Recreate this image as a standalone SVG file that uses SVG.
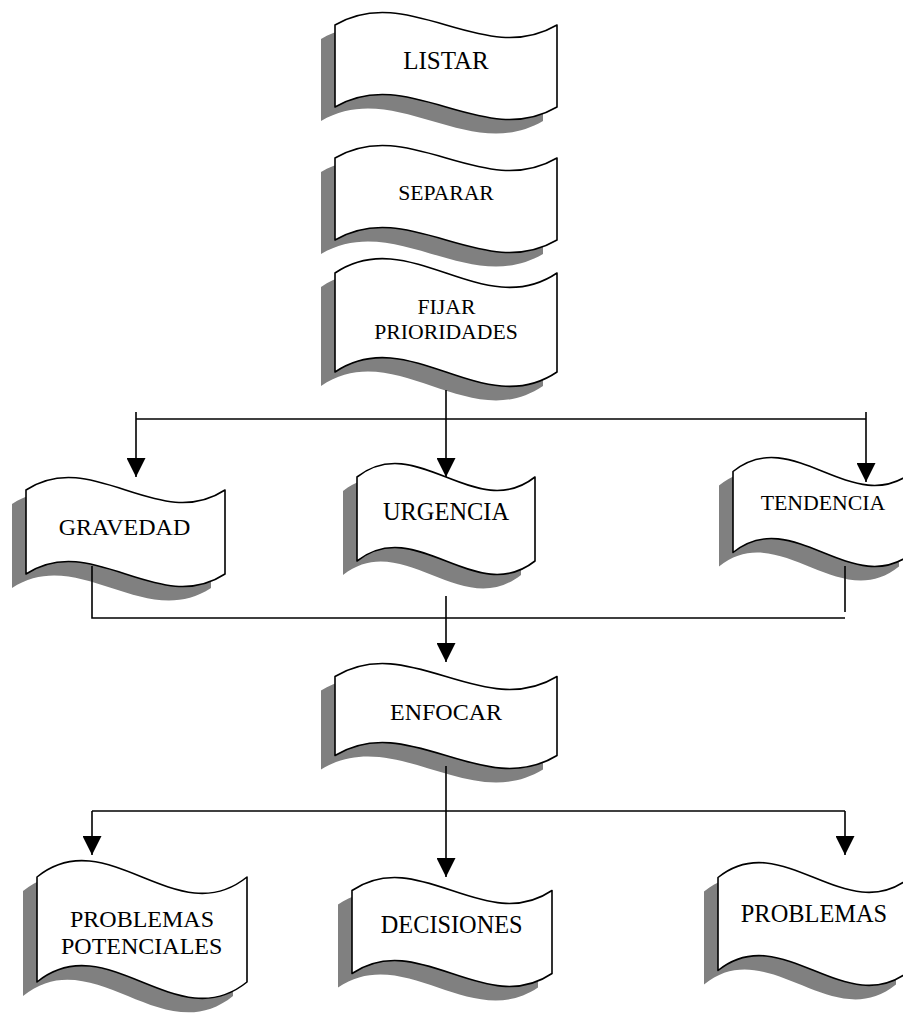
<svg xmlns="http://www.w3.org/2000/svg" xmlns:xlink="http://www.w3.org/1999/xlink" width="903" height="1017" viewBox="0 0 903 1017">
  <defs>
    <style>
      .bg { fill: #ffffff; }
      .shadow { fill: #808080; stroke: none; }
      .shape { fill: #ffffff; stroke: #000000; stroke-width: 1.6; stroke-linejoin: round; }
      .lbl { font-family: "Liberation Serif", "Times New Roman", serif; fill: #000000; text-anchor: middle; }
      .big { font-size: 24px; }
      .small { font-size: 21.7px; }
      .conn { fill: none; stroke: #000000; stroke-width: 1.6; }
    </style>
    <marker id="arrow" markerUnits="userSpaceOnUse" markerWidth="19" markerHeight="19" viewBox="0 0 19 19" refX="19" refY="9.5" orient="auto">
      <path d="M0,0 L19,9.5 L0,19 Z" fill="#000000"/>
    </marker>
    <!-- wave outlines -->
    <path id="w-listar" d="M335,25 C409,-18.33 483,68.33 557,25 L557,107 C483,150.33 409,63.67 335,107 Z"/>
    <path id="w-separar" d="M335,158 C409,114.67 483,201.33 557,158 L557,240 C483,283.33 409,196.67 335,240 Z"/>
    <path id="w-fijar" d="M335,273 C409,223 483,323 557,273 L557,372 C483,422 409,322 335,372 Z"/>
    <path id="w-gravedad" d="M26,490 C92.33,446.67 158.67,533.33 225,490 L225,574 C158.67,617.33 92.33,530.67 26,574 Z"/>
    <path id="w-urgencia" d="M357,477 C416.33,430.33 475.67,523.67 535,477 L535,561 C475.67,607.67 416.33,514.33 357,561 Z"/>
    <path id="w-tendencia" d="M733,471.5 C793,423.17 853,519.83 913,471.5 L913,552.5 C853,600.83 793,504.17 733,552.5 Z"/>
    <path id="w-enfocar" d="M335,676.5 C409,631.5 483,721.5 557,676.5 L557,755.5 C483,800.5 409,710.5 335,755.5 Z"/>
    <path id="w-potenciales" d="M37,877 C107,820.33 177,933.67 247,877 L247,982 C177,1038.67 107,925.33 37,982 Z"/>
    <path id="w-decisiones" d="M352,890.5 C418.67,845.5 485.33,935.5 552,890.5 L552,973.5 C485.33,1018.5 418.67,928.5 352,973.5 Z"/>
    <path id="w-problemas" d="M718,877.5 C782,825.83 846,929.17 910,877.5 L910,970.5 C846,1022.17 782,918.83 718,970.5 Z"/>
  </defs>

  <rect class="bg" x="0" y="0" width="903" height="1017"/>

  <g id="node-listar">
    <use class="shadow" href="#w-listar" transform="translate(-14,14)"/>
    <use class="shape" href="#w-listar"/>
    <text class="lbl" x="446" y="68.5" font-size="25">LISTAR</text>
  </g>

  <g id="node-separar">
    <use class="shadow" href="#w-separar" transform="translate(-14,14)"/>
    <use class="shape" href="#w-separar"/>
    <text class="lbl small" x="446" y="199.5">SEPARAR</text>
  </g>

  <g id="node-fijar">
    <use class="shadow" href="#w-fijar" transform="translate(-14,14)"/>
    <use class="shape" href="#w-fijar"/>
    <text class="lbl small" x="446.5" y="314">FIJAR</text>
    <text class="lbl small" x="446" y="339">PRIORIDADES</text>
  </g>

  <g id="node-gravedad">
    <use class="shadow" href="#w-gravedad" transform="translate(-14,14)"/>
    <use class="shape" href="#w-gravedad"/>
    <text class="lbl big" x="124.5" y="535">GRAVEDAD</text>
  </g>

  <g id="node-urgencia">
    <use class="shadow" href="#w-urgencia" transform="translate(-14,14)"/>
    <use class="shape" href="#w-urgencia"/>
    <text class="lbl" x="446" y="520" font-size="24.4">URGENCIA</text>
  </g>

  <g id="node-tendencia">
    <use class="shadow" href="#w-tendencia" transform="translate(-14,14)"/>
    <use class="shape" href="#w-tendencia"/>
    <text class="lbl" x="823" y="510" font-size="21.8">TENDENCIA</text>
  </g>

  <g id="node-enfocar">
    <use class="shadow" href="#w-enfocar" transform="translate(-14,14)"/>
    <use class="shape" href="#w-enfocar"/>
    <text class="lbl big" x="446" y="719.5">ENFOCAR</text>
  </g>

  <g id="node-potenciales">
    <use class="shadow" href="#w-potenciales" transform="translate(-14,14)"/>
    <use class="shape" href="#w-potenciales"/>
    <text class="lbl big" x="142" y="926.7">PROBLEMAS</text>
    <text class="lbl big" x="141.7" y="954.3">POTENCIALES</text>
  </g>

  <g id="node-decisiones">
    <use class="shadow" href="#w-decisiones" transform="translate(-14,14)"/>
    <use class="shape" href="#w-decisiones"/>
    <text class="lbl" x="451.7" y="933.3" font-size="24.3">DECISIONES</text>
  </g>

  <g id="node-problemas">
    <use class="shadow" href="#w-problemas" transform="translate(-14,14)"/>
    <use class="shape" href="#w-problemas"/>
    <text class="lbl" x="814" y="921.7" font-size="24.4">PROBLEMAS</text>
  </g>

  <g id="connectors">
    <!-- priorities fan out to the three criteria -->
    <path class="conn" d="M136,419 H866"/>
    <path class="conn" d="M446,390 V477" marker-end="url(#arrow)"/>
    <path class="conn" d="M136,412 V477" marker-end="url(#arrow)"/>
    <path class="conn" d="M866,412 V482" marker-end="url(#arrow)"/>
    <!-- criteria join into focus -->
    <path class="conn" d="M92,566 V618 H845"/>
    <path class="conn" d="M845,566 V612"/>
    <path class="conn" d="M446,596 V662" marker-end="url(#arrow)"/>
    <!-- focus splits into the three outcomes -->
    <path class="conn" d="M92,811 H845"/>
    <path class="conn" d="M446,766 V877" marker-end="url(#arrow)"/>
    <path class="conn" d="M92,811 V855" marker-end="url(#arrow)"/>
    <path class="conn" d="M845,811 V855" marker-end="url(#arrow)"/>
  </g>
</svg>
